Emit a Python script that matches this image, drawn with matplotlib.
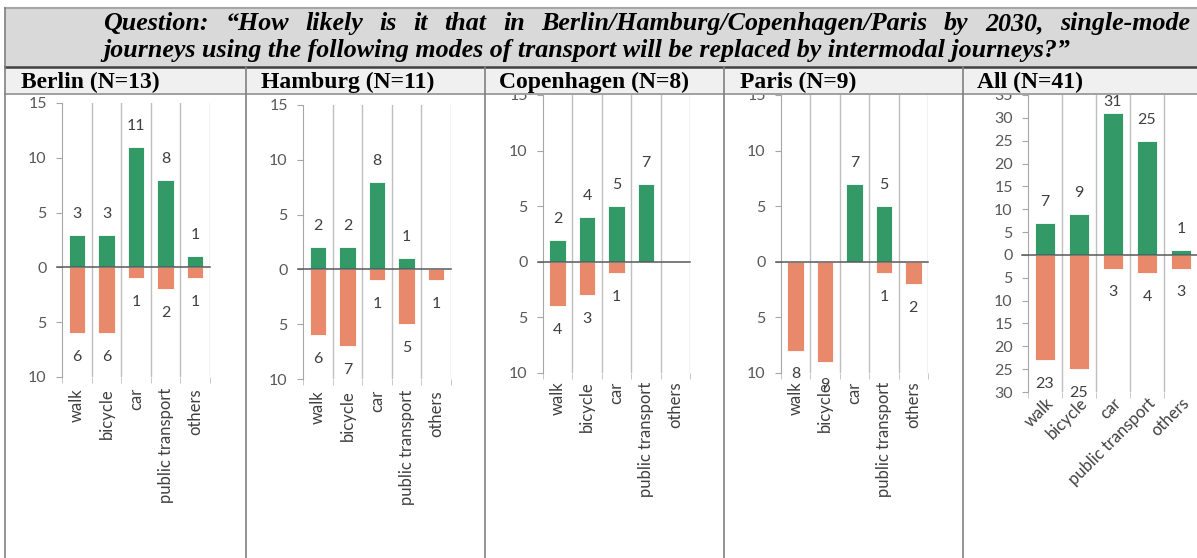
import matplotlib
matplotlib.use('Agg')
import matplotlib.pyplot as plt
from matplotlib.patches import Rectangle
from matplotlib.lines import Line2D
from matplotlib.ticker import FuncFormatter, MultipleLocator, FixedLocator
import numpy as np

# ---------------- data ----------------
categories = ['walk', 'bicycle', 'car', 'public transport', 'others']
panel_titles = ['Berlin (N=13)', 'Hamburg (N=11)', 'Copenhagen (N=8)', 'Paris (N=9)', 'All (N=41)']

berlin_likely = [3, 3, 11, 8, 1]
berlin_unlikely = [6, 6, 1, 2, 1]
hamburg_likely = [2, 2, 8, 1, 0]
hamburg_unlikely = [6, 7, 1, 5, 1]
copenhagen_likely = [2, 4, 5, 7, 0]
copenhagen_unlikely = [4, 3, 1, 0, 0]
paris_likely = [0, 0, 7, 5, 0]
paris_unlikely = [8, 9, 0, 1, 2]
all_likely = [7, 9, 31, 25, 1]
all_unlikely = [23, 25, 3, 4, 3]

likely = [berlin_likely, hamburg_likely, copenhagen_likely, paris_likely, all_likely]
unlikely = [berlin_unlikely, hamburg_unlikely, copenhagen_unlikely, paris_unlikely, all_unlikely]
y_limits = [(-10, 15), (-10, 15), (-10, 15), (-10, 15), (-30, 35)]

title_line1 = 'Question: “How likely is it that in Berlin/Hamburg/Copenhagen/Paris by 2030, single-mode'
title_line2 = 'journeys using the following modes of transport will be replaced by intermodal journeys?”'

# ---------------- style / layout ----------------
W, H = 1197, 558
GREEN = '#339966'
SALMON = '#e8896b'
TXT = '#404040'
GRID = '#bfbfbf'
SPINE = '#a6a6a6'

plt.rcParams['font.family'] = ['Lato', 'DejaVu Sans']

fig = plt.figure(figsize=(W / 100, H / 100), dpi=100)


def fx(x):
    return x / W


def fy(y):
    return 1 - y / H


# axes boxes in pixels: x0, x1, ytop, ybottom, xtick pad (pt)
boxes = [(62, 210, 103, 377, 8),
         (303, 451, 105, 379, 8),
         (543, 690, 95, 373, 6),
         (781, 928, 95, 373, 6),
         (1028, 1198, 95, 392, 2)]

x = np.arange(len(categories))
for k, (x0, x1, yt, yb, pad) in enumerate(boxes):
    ax = fig.add_axes([fx(x0), fy(yb), (x1 - x0) / W, (yb - yt) / H])
    ax.set_facecolor('none')
    lo, hi = y_limits[k]
    ax.set_xlim(-0.5, len(categories) - 0.5)
    ax.set_ylim(lo, hi)
    pos = likely[k]
    neg = [-v for v in unlikely[k]]
    ax.bar(x, pos, width=0.56, color=GREEN, edgecolor='white', linewidth=0.6, zorder=3)
    ax.bar(x, neg, width=0.56, color=SALMON, edgecolor='white', linewidth=0.6, zorder=3)
    for b in np.arange(0.5, len(categories), 1.0):
        ax.axvline(b, color=GRID, lw=1, zorder=1)
    for s in ['top', 'right', 'bottom']:
        ax.spines[s].set_visible(False)
    ax.spines['left'].set_color(SPINE)
    ax.yaxis.set_major_locator(MultipleLocator(5))
    ax.yaxis.set_major_formatter(FuncFormatter(lambda v, p: f'{abs(int(round(v)))}'))
    ax.tick_params(axis='y', length=4, color=SPINE, labelsize=11.5, labelcolor='#595959', pad=7)
    ax.set_xticks(x)
    ax.xaxis.set_minor_locator(FixedLocator(np.arange(-0.5, len(categories), 1.0)))
    ax.tick_params(axis='x', which='minor', length=4, color=GRID)
    ax.tick_params(axis='x', which='major', length=0, pad=pad, labelsize=12, labelcolor=TXT)
    if k < 4:
        ax.set_xticklabels(categories, rotation=90, ha='center', va='top')
    else:
        ax.set_xticklabels(categories, rotation=45, ha='right', va='top', rotation_mode='anchor')
    ax.plot([-0.68, len(categories) - 0.5], [0, 0], color='#595959', lw=1.1,
            clip_on=False, zorder=4)
    # data labels
    px_per_unit = (yb - yt) / (hi - lo)
    for i, v in enumerate(pos):
        if v > 0:
            off_px = 21
            top_px = yb - (v - lo) * px_per_unit
            if top_px - off_px < yt + 7:
                off_px = top_px - (yt + 7)
            ax.annotate(str(v), (i, v), xytext=(0, off_px * 0.72), textcoords='offset points',
                        ha='center', va='center', fontsize=11.5, color=TXT, zorder=5)
    for i, v in enumerate(neg):
        if v < 0:
            ax.annotate(str(-v), (i, v), xytext=(0, -17), textcoords='offset points',
                        ha='center', va='center', fontsize=11.5, color=TXT, zorder=5)

# ---------------- table frame ----------------
fig.add_artist(Rectangle((fx(5), fy(67)), 1 - fx(5), (67 - 8) / H, transform=fig.transFigure,
                         facecolor='#d9d9d9', edgecolor='none', zorder=10))
fig.add_artist(Rectangle((fx(5), fy(93)), 1 - fx(5), (93 - 67) / H, transform=fig.transFigure,
                         facecolor='#f0f0f0', edgecolor='none', zorder=10))
fig.add_artist(Line2D([fx(5), 1], [fy(8), fy(8)], color='#a6a6a6', lw=1.5, zorder=11))
fig.add_artist(Line2D([fx(5), 1], [fy(67), fy(67)], color='#404040', lw=1.8, zorder=11))
fig.add_artist(Line2D([fx(5), 1], [fy(93.5), fy(93.5)], color='#a0a0a0', lw=1.4, zorder=11))
fig.add_artist(Line2D([fx(5), fx(5)], [fy(8), 0], color='#808080', lw=1.2, zorder=11))
for xd in [246, 485, 724, 963]:
    fig.add_artist(Line2D([fx(xd), fx(xd)], [fy(67), 0], color='#808080', lw=1.2, zorder=11))

# panel headers
for xh, t in zip([21, 261, 499, 740, 977], panel_titles):
    fig.text(fx(xh), fy(88), t, family='Liberation Serif', weight='bold', fontsize=17,
             va='baseline', ha='left', zorder=12)

# title, line 2 fitted, line 1 justified
renderer = fig.canvas.get_renderer()
t2 = fig.text(fx(103), fy(57), title_line2, family='Liberation Serif', weight='bold',
              style='italic', fontsize=14, va='baseline', ha='left', zorder=12)
w2 = t2.get_window_extent(renderer).width
fs = 14 * 970 / w2
t2.set_fontsize(fs)

words = title_line1.split(' ')
wtexts = []
widths = []
for w in words:
    t = fig.text(0, fy(30), w, family='Liberation Serif', weight='bold', style='italic',
                 fontsize=fs, va='baseline', ha='left', zorder=12)
    wtexts.append(t)
    widths.append(t.get_window_extent(renderer).width)
x_left, x_right = 103, 1190
gap = (x_right - x_left - sum(widths)) / (len(words) - 1)
cur = x_left
for t, wd in zip(wtexts, widths):
    t.set_x(fx(cur))
    cur += wd + gap

fig.savefig('out.png', dpi=100)
